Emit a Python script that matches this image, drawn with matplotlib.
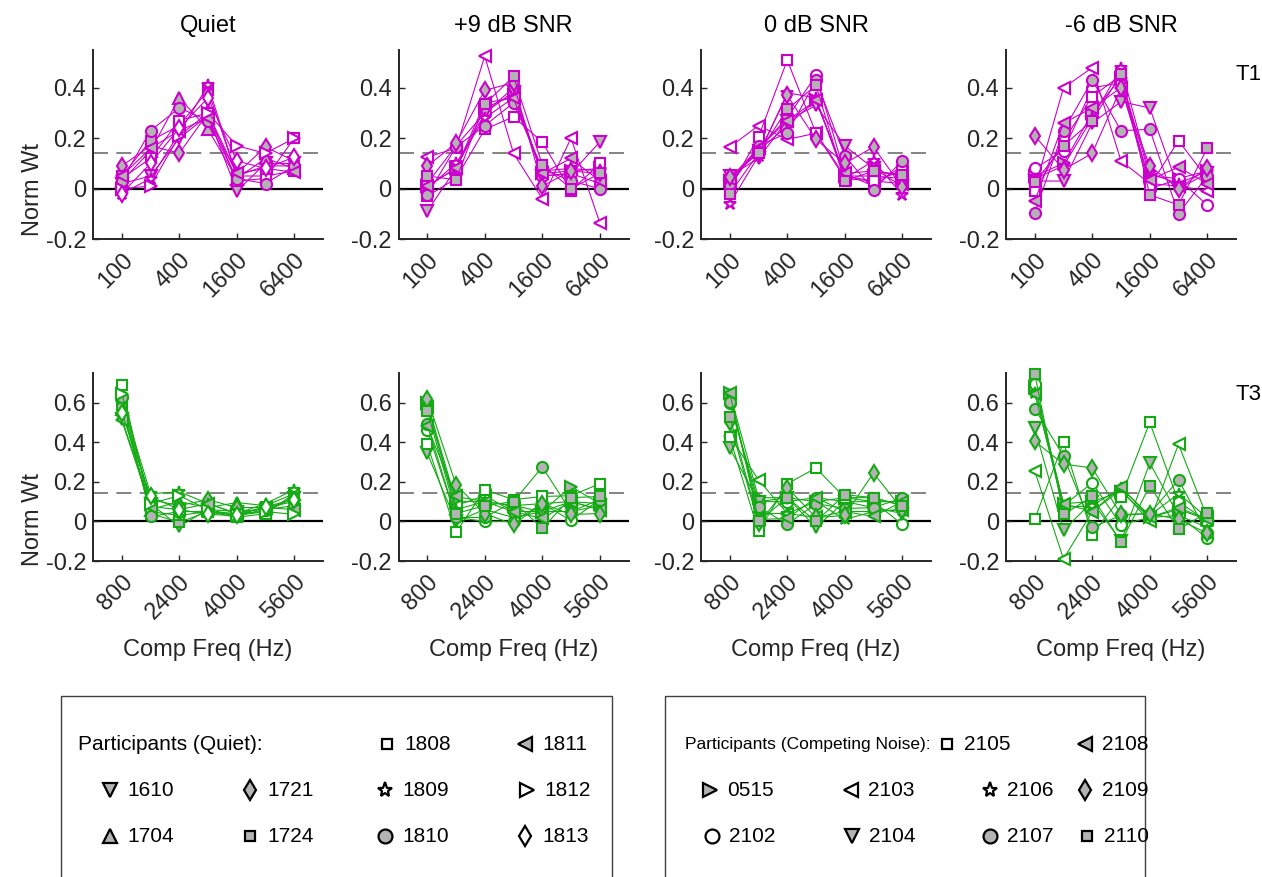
import matplotlib
matplotlib.use('Agg')
import matplotlib.pyplot as plt
from matplotlib.patches import Rectangle

plt.rcParams['font.family'] = ['Liberation Sans', 'DejaVu Sans']

# frequencies of the components
t1_freqs = [100, 200, 400, 800, 1600, 3200, 6400]
t3_freqs = [800, 1600, 2400, 3200, 4000, 4800, 5600]
t1_ticks = [100, 400, 1600, 6400]
t3_ticks = [800, 2400, 4000, 5600]
conditions = ['Quiet', '+9 dB SNR', '0 dB SNR', '-6 dB SNR']
chance_level = 1 / 7

# participants: id, marker, filled (gray face) or open
quiet_ids = ['1610', '1704', '1721', '1724', '1808', '1809', '1810', '1811', '1812', '1813']
quiet_markers = ['v', '^', 'd', 's', 's', '*', 'o', '<', '>', 'd']
quiet_filled = [True, True, True, True, False, False, True, True, False, False]

noise_ids = ['0515', '2102', '2103', '2104', '2105', '2106', '2107', '2108', '2109', '2110']
noise_markers = ['>', 'o', '<', 'v', 's', '*', 'o', '<', 'd', 's']
noise_filled = [True, False, False, True, False, False, True, True, True, True]

# normalized weights, one row per participant (same order as ids)
t1_quiet = [
    [0.02, 0.05, 0.20, 0.29, -0.01, 0.10, 0.10],
    [0.03, 0.15, 0.36, 0.235, 0.04, 0.12, 0.08],
    [0.09, 0.17, 0.14, 0.30, 0.06, 0.165, 0.11],
    [0.05, 0.19, 0.25, 0.39, 0.05, 0.05, 0.07],
    [0.04, 0.12, 0.27, 0.30, 0.03, 0.04, 0.20],
    [-0.02, 0.04, 0.22, 0.41, 0.05, 0.09, 0.09],
    [0.03, 0.23, 0.32, 0.27, 0.04, 0.02, 0.09],
    [0.05, 0.16, 0.23, 0.28, 0.06, 0.08, 0.065],
    [0.00, 0.01, 0.21, 0.30, 0.17, 0.14, 0.20],
    [-0.02, 0.10, 0.24, 0.36, 0.11, 0.08, 0.125],
]
t1_snr9 = [
    [0.01, 0.08, 0.32, 0.37, 0.06, 0.07, 0.08],
    [0.02, 0.17, 0.30, 0.40, 0.05, 0.06, 0.02],
    [0.125, 0.16, 0.525, 0.14, -0.04, 0.20, -0.135],
    [-0.09, 0.08, 0.30, 0.385, 0.05, 0.06, 0.185],
    [-0.03, 0.04, 0.235, 0.285, 0.185, -0.01, 0.10],
    [0.00, 0.10, 0.28, 0.36, 0.07, 0.08, 0.07],
    [-0.025, 0.165, 0.25, 0.34, 0.08, 0.03, 0.00],
    [0.01, 0.08, 0.34, 0.36, 0.06, 0.12, 0.03],
    [0.09, 0.18, 0.39, 0.42, 0.01, 0.07, 0.06],
    [0.05, 0.035, 0.335, 0.445, 0.095, 0.00, 0.06],
]
t1_snr0 = [
    [0.03, 0.15, 0.25, 0.35, 0.05, 0.05, 0.04],
    [0.02, 0.16, 0.28, 0.45, 0.06, 0.01, 0.09],
    [0.165, 0.25, 0.195, 0.22, 0.04, 0.03, 0.02],
    [0.05, 0.12, 0.27, 0.33, 0.17, 0.08, 0.01],
    [0.00, 0.205, 0.51, 0.22, 0.05, 0.03, 0.07],
    [-0.06, 0.13, 0.38, 0.36, 0.04, 0.11, -0.025],
    [0.01, 0.17, 0.22, 0.43, 0.13, -0.005, 0.11],
    [0.04, 0.16, 0.27, 0.35, 0.06, 0.07, 0.05],
    [0.045, 0.14, 0.37, 0.195, 0.10, 0.165, 0.005],
    [-0.02, 0.14, 0.315, 0.41, 0.03, 0.07, 0.055],
]
t1_snrm6 = [
    [0.05, 0.10, 0.30, 0.44, 0.05, 0.04, 0.07],
    [0.08, 0.15, 0.40, 0.42, 0.00, 0.037, -0.065],
    [0.00, 0.40, 0.48, 0.11, 0.02, 0.01, -0.01],
    [0.03, 0.03, 0.26, 0.345, 0.32, 0.00, 0.06],
    [-0.01, 0.19, 0.365, 0.45, 0.01, 0.19, 0.04],
    [0.04, 0.09, 0.28, 0.48, 0.06, 0.02, 0.07],
    [-0.095, 0.23, 0.43, 0.23, 0.235, -0.10, 0.05],
    [-0.05, 0.26, 0.32, 0.40, 0.035, 0.085, 0.02],
    [0.21, 0.075, 0.14, 0.40, 0.09, 0.00, 0.08],
    [0.025, 0.17, 0.27, 0.455, -0.025, -0.065, 0.16],
]
t3_quiet = [
    [0.52, 0.09, -0.025, 0.06, 0.05, 0.06, 0.12],
    [0.57, 0.06, 0.10, 0.07, 0.095, 0.08, 0.14],
    [0.60, 0.11, 0.08, 0.11, 0.07, 0.07, 0.10],
    [0.59, 0.04, -0.005, 0.05, 0.04, 0.05, 0.12],
    [0.69, 0.05, 0.03, 0.05, 0.02, 0.04, 0.14],
    [0.62, 0.14, 0.15, 0.09, 0.04, 0.09, 0.16],
    [0.63, 0.025, 0.05, 0.05, 0.03, 0.06, 0.08],
    [0.51, 0.075, 0.06, 0.09, 0.04, 0.07, 0.06],
    [0.645, 0.09, 0.13, 0.06, 0.03, 0.05, 0.035],
    [0.55, 0.126, 0.06, 0.035, 0.03, 0.075, 0.11],
]
t3_snr9 = [
    [0.60, 0.10, 0.10, 0.08, 0.05, 0.176, 0.09],
    [0.46, 0.02, 0.00, 0.00, 0.09, 0.005, 0.11],
    [0.58, 0.08, 0.13, 0.05, 0.05, 0.10, 0.06],
    [0.345, 0.00, 0.06, 0.02, 0.05, 0.05, 0.08],
    [0.39, -0.055, 0.16, 0.11, 0.126, 0.13, 0.19],
    [0.59, 0.06, 0.10, 0.08, 0.09, 0.10, 0.09],
    [0.49, 0.02, 0.02, 0.10, 0.275, 0.05, 0.11],
    [0.48, 0.126, 0.10, 0.05, 0.015, 0.10, 0.06],
    [0.62, 0.185, 0.04, -0.015, 0.09, 0.035, 0.04],
    [0.56, 0.04, 0.08, 0.10, -0.035, 0.12, 0.126],
]
t3_snr0 = [
    [0.65, 0.12, 0.12, 0.10, 0.12, 0.10, 0.10],
    [0.60, 0.10, 0.10, 0.12, 0.10, 0.10, -0.015],
    [0.43, 0.21, 0.04, 0.02, 0.05, 0.05, 0.06],
    [0.37, 0.10, 0.12, -0.03, 0.10, 0.07, 0.04],
    [0.425, -0.05, 0.19, 0.27, 0.12, 0.12, 0.08],
    [0.64, 0.04, 0.04, 0.10, 0.01, 0.05, 0.06],
    [0.605, 0.075, -0.015, 0.09, 0.065, 0.07, 0.118],
    [0.65, 0.01, 0.015, 0.12, 0.05, 0.025, 0.10],
    [0.50, -0.01, 0.17, 0.02, 0.03, 0.245, 0.06],
    [0.53, 0.00, 0.12, 0.00, 0.135, 0.12, 0.08],
]
t3_snrm6 = [
    [0.68, 0.09, 0.10, 0.15, 0.02, 0.06, 0.01],
    [0.695, 0.08, 0.195, -0.017, 0.02, 0.03, -0.085],
    [0.255, -0.19, 0.05, 0.16, 0.00, 0.39, 0.02],
    [0.47, -0.045, 0.10, -0.10, 0.295, 0.03, -0.03],
    [0.012, 0.40, -0.067, 0.123, 0.50, 0.10, 0.00],
    [0.65, 0.07, 0.08, 0.17, 0.03, 0.14, 0.02],
    [0.57, 0.33, -0.03, 0.03, 0.04, 0.21, -0.06],
    [0.645, 0.09, 0.05, 0.173, 0.02, 0.07, 0.01],
    [0.405, 0.29, 0.27, 0.035, 0.04, 0.01, -0.06],
    [0.745, 0.035, 0.126, -0.105, 0.18, -0.04, 0.045],
]

t1_panels = [t1_quiet, t1_snr9, t1_snr0, t1_snrm6]
t3_panels = [t3_quiet, t3_snr9, t3_snr0, t3_snrm6]

MAGENTA = '#CC00CC'
GREEN = '#14AA14'
GRAY = '#B3B3B3'
TXT = '#262626'
FS = 17


def marker_size(m):
    if m == 's':
        return 7
    if m == '*':
        return 9
    return 8


fig = plt.figure(figsize=(12.62, 8.77), dpi=100)
W, H = 1262, 877
col_left = [93, 398.5, 701, 1006]
ax_w = 230


def setup_axes(ax, ylim, yticks):
    ax.spines['top'].set_visible(False)
    ax.spines['right'].set_visible(False)
    for s in ['left', 'bottom']:
        ax.spines[s].set_color(TXT)
        ax.spines[s].set_linewidth(1.4)
    ax.set_ylim(ylim)
    ax.set_yticks(yticks)
    ax.set_yticklabels(['0' if v == 0 else f'{v:g}' for v in yticks])
    ax.tick_params(direction='in', length=4, width=1, colors=TXT, labelsize=FS)
    ax.tick_params(axis='y', pad=5)
    ax.axhline(0, color='black', lw=1.6, zorder=1)
    ax.axhline(chance_level, color='#6E6E6E', lw=1.2, ls=(0, (9, 5)), zorder=1)


def rot_labels(ax, ticks):
    ax.set_xticks(ticks)
    ax.set_xticklabels([str(t) for t in ticks], rotation=45, ha='right',
                       va='top', rotation_mode='anchor')
    ax.tick_params(axis='x', pad=7)


for c in range(4):
    ids, mk, fl = (quiet_ids, quiet_markers, quiet_filled) if c == 0 else (noise_ids, noise_markers, noise_filled)

    # T1 row
    ax = fig.add_axes([col_left[c] / W, 1 - 239 / H, ax_w / W, 189 / H])
    ax.set_xscale('log')
    ax.set_xlim(50, 12800)
    setup_axes(ax, (-0.2, 0.55), [-0.2, 0, 0.2, 0.4])
    ax.xaxis.set_minor_locator(matplotlib.ticker.NullLocator())
    rot_labels(ax, t1_ticks)
    for row, m, f in zip(t1_panels[c], mk, fl):
        ax.plot(t1_freqs, row, color=MAGENTA, lw=0.8, marker=m, ms=marker_size(m),
                mfc=GRAY if f else 'white', mec=MAGENTA, mew=1.5, zorder=3, clip_on=False)
    ax.set_title(conditions[c], fontsize=FS, color='black', pad=13)
    if c == 0:
        ax.set_ylabel('Norm Wt', fontsize=FS, color=TXT)
        ax.yaxis.set_label_coords(-0.215, 0.26)

    # T3 row
    ax = fig.add_axes([col_left[c] / W, 1 - 561 / H, ax_w / W, 188 / H])
    ax.set_xlim(0, 6400)
    setup_axes(ax, (-0.2, 0.75), [-0.2, 0, 0.2, 0.4, 0.6])
    rot_labels(ax, t3_ticks)
    for row, m, f in zip(t3_panels[c], mk, fl):
        ax.plot(t3_freqs, row, color=GREEN, lw=0.8, marker=m, ms=marker_size(m),
                mfc=GRAY if f else 'white', mec=GREEN, mew=1.5, zorder=3, clip_on=False)
    ax.set_xlabel('Comp Freq (Hz)', fontsize=FS, color=TXT, labelpad=11)
    if c == 0:
        ax.set_ylabel('Norm Wt', fontsize=FS, color=TXT)
        ax.yaxis.set_label_coords(-0.215, 0.22)

fig.text(1236 / W, 1 - 75 / H, 'T1', fontsize=16, color='black', va='center', ha='left')
fig.text(1236 / W, 1 - 394 / H, 'T3', fontsize=16, color='black', va='center', ha='left')

# legend panels drawn in pixel coordinates
lg = fig.add_axes([0, 0, 1, 1])
lg.set_xlim(0, W)
lg.set_ylim(H, 0)
lg.axis('off')
lg.add_patch(Rectangle((61, 696), 551, 200, fill=False, ec='#404040', lw=1.0))
lg.add_patch(Rectangle((665, 696), 480, 200, fill=False, ec='#404040', lw=1.0))

LFS = 15
row_y = [744, 790, 836]
lg.text(78, row_y[0], 'Participants (Quiet):', fontsize=LFS, va='center', ha='left', color='black')
lg.text(685, row_y[0], 'Participants (Competing Noise):', fontsize=12.5, va='center', ha='left', color='black')

# grid slots (marker x, row) for each participant
quiet_slots = [(110, 1), (110, 2), (250, 1), (250, 2), (387, 0), (385, 1), (385, 2), (525, 0), (527, 1), (525, 2)]
noise_slots = [(710, 1), (712, 2), (851, 1), (852, 2), (947, 0), (990, 1), (990, 2), (1085, 0), (1085, 1), (1087, 2)]

for ids, mk, fl, slots in [(quiet_ids, quiet_markers, quiet_filled, quiet_slots),
                           (noise_ids, noise_markers, noise_filled, noise_slots)]:
    for pid, m, f, (x, r) in zip(ids, mk, fl, slots):
        ms = {'s': 7, '*': 11, 'o': 10}.get(m, 10)
        lg.plot([x], [row_y[r]], marker=m, ms=ms, mfc=GRAY if f else 'white',
                mec='black', mew=1.6, ls='none')
        lg.text(x + 17, row_y[r], pid, fontsize=LFS, va='center', ha='left', color='black')

fig.savefig('out.png', dpi=100)
